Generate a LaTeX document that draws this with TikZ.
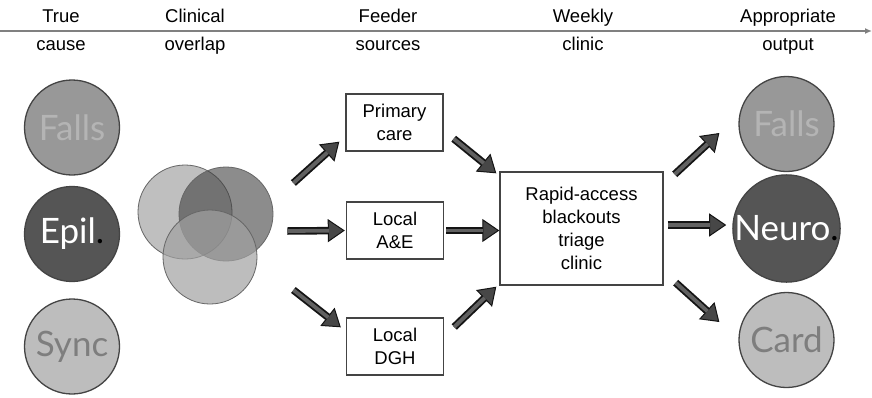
\documentclass[tikz,border=0pt]{standalone}
\usepackage{fontspec}
\setmainfont{Liberation Sans}
\newfontfamily\circfont{Lato}
\usepackage{tikz}
\usetikzlibrary{arrows.meta}
\definecolor{rimgray}{HTML}{444444}
\definecolor{fallsfill}{HTML}{989898}
\definecolor{fallstext}{HTML}{B4B4B4}
\definecolor{darkfill}{HTML}{555555}
\definecolor{lightfill}{HTML}{BDBDBD}
\definecolor{lighttext}{HTML}{7E7E7E}
\tikzset{
  hdr/.style={anchor=base, inner sep=0pt, font=\fontsize{18.5}{23}\selectfont},
  feeder/.style={draw=rimgray, line width=1.4pt, fill=white, minimum width=97pt,
    minimum height=57pt, inner sep=0pt, align=center, font=\fontsize{18.5}{23}\selectfont},
  disc/.style={circle, draw=rimgray, line width=1.3pt, minimum size=95pt, inner sep=0pt,
    font=\circfont\fontsize{35}{35}\selectfont},
  venn/.style={circle, draw=black!60, line width=0.8pt, minimum size=94pt, inner sep=0pt},
  fat/.style={line width=7.5pt, draw=black!92,
    -{Triangle[length=17pt,width=23pt,line width=1pt,fill=black!72]},
    postaction={draw=black!62, line width=3.8pt, -, shorten >=16pt}},
}

\begin{document}
\begin{tikzpicture}[x=1pt,y=1pt]
\useasboundingbox[fill=white] (0.000000, 0.000000) rectangle (872.000000, -397.000000);
% Drawing the stage line
\coordinate (axl) at (0.000000, -31.000000);
\coordinate (axr) at (872.000000, -31.000000);
\draw[draw=black!50, line width=1.6pt, -{Latex[length=7pt,width=6pt]}] (axl) -- (axr);
\node[hdr] (h1a) at (61.000000, -22.000000) {True};
\node[hdr] (h1b) at (61.000000, -50.000000) {cause};
\node[hdr] (h2a) at (195.000000, -22.000000) {Clinical};
\node[hdr] (h2b) at (195.000000, -50.000000) {overlap};
\node[hdr] (h3a) at (388.000000, -22.000000) {Feeder};
\node[hdr] (h3b) at (388.000000, -50.000000) {sources};
\node[hdr] (h4a) at (583.000000, -22.000000) {Weekly};
\node[hdr] (h4b) at (583.000000, -50.000000) {clinic};
\node[hdr] (h5a) at (788.000000, -22.000000) {Appropriate};
\node[hdr] (h5b) at (788.000000, -50.000000) {output};
% Done with stage line; drawing true causes
\node[disc, fill=fallsfill, text=fallstext] (falls) at (72.000000, -127.500000) {Falls};
\node[disc, fill=darkfill, text=white] (epil) at (72.000000, -234.000000) {Epil\textcolor{black}{.}};
\node[disc, fill=lightfill, text=lighttext] (sync) at (72.000000, -346.500000) {Sync};
% Clinical overlap
\node[venn, fill=black!25] (vennA) at (185.000000, -212.000000) {};
\node[venn, fill=black!75, fill opacity=0.6] (vennB) at (226.000000, -214.000000) {};
\node[venn, fill=black!37, fill opacity=0.7] (vennC) at (210.000000, -257.000000) {};
% Feeder sources
\node[feeder] (prim) at (394.500000, -122.500000) {Primary\\care};
\node[feeder] (ae) at (395.000000, -230.500000) {Local\\A\&E};
\node[feeder] (dgh) at (395.000000, -346.500000) {Local\\DGH};
% Weekly clinic
\node[feeder, minimum width=163pt, minimum height=113pt] (rapid) at (581.500000, -228.500000)
  {Rapid-access\\blackouts\\triage\\clinic};
% Appropriate output
\node[disc, fill=fallsfill, text=fallstext] (outfalls) at (786.500000, -124.000000) {Falls};
\node[disc, fill=darkfill, text=white] (neuro) at (786.500000, -228.500000) {Neuro\textcolor{black}{.}};
\node[disc, fill=lightfill, text=lighttext] (card) at (786.500000, -340.000000) {Card};
% Done with nodes; drawing arrows
\draw[fat] ([xshift=20pt,yshift=31pt]vennB.east) -- ([xshift=-6pt,yshift=10pt]prim.south west);
\draw[fat] ([xshift=14pt,yshift=-17pt]vennB.east) -- ([xshift=-1pt]ae.west);
\draw[fat] ([xshift=36pt,yshift=-33pt]vennC.east) -- ([xshift=-5pt,yshift=-10pt]dgh.north west);
\draw[fat] ([xshift=10pt,yshift=13pt]prim.south east) -- ([xshift=-3pt,yshift=-2pt]rapid.north west);
\draw[fat] ([xshift=2pt]ae.east) -- ([yshift=-2pt]rapid.west);
\draw[fat] ([xshift=10pt,yshift=19.5pt]dgh.east) -- ([xshift=-3pt,yshift=-1pt]rapid.south west);
\draw[fat] ([xshift=11pt,yshift=-3pt]rapid.north east) -- ([xshift=-19pt,yshift=-9pt]outfalls.west);
\draw[fat] ([xshift=4pt,yshift=3.5pt]rapid.east) -- ([xshift=-6pt,yshift=3.5pt]neuro.west);
\draw[fat] ([xshift=12pt,yshift=3pt]rapid.south east) -- ([xshift=-19pt,yshift=18pt]card.west);
% Done with arrows
\end{tikzpicture}
\end{document}
